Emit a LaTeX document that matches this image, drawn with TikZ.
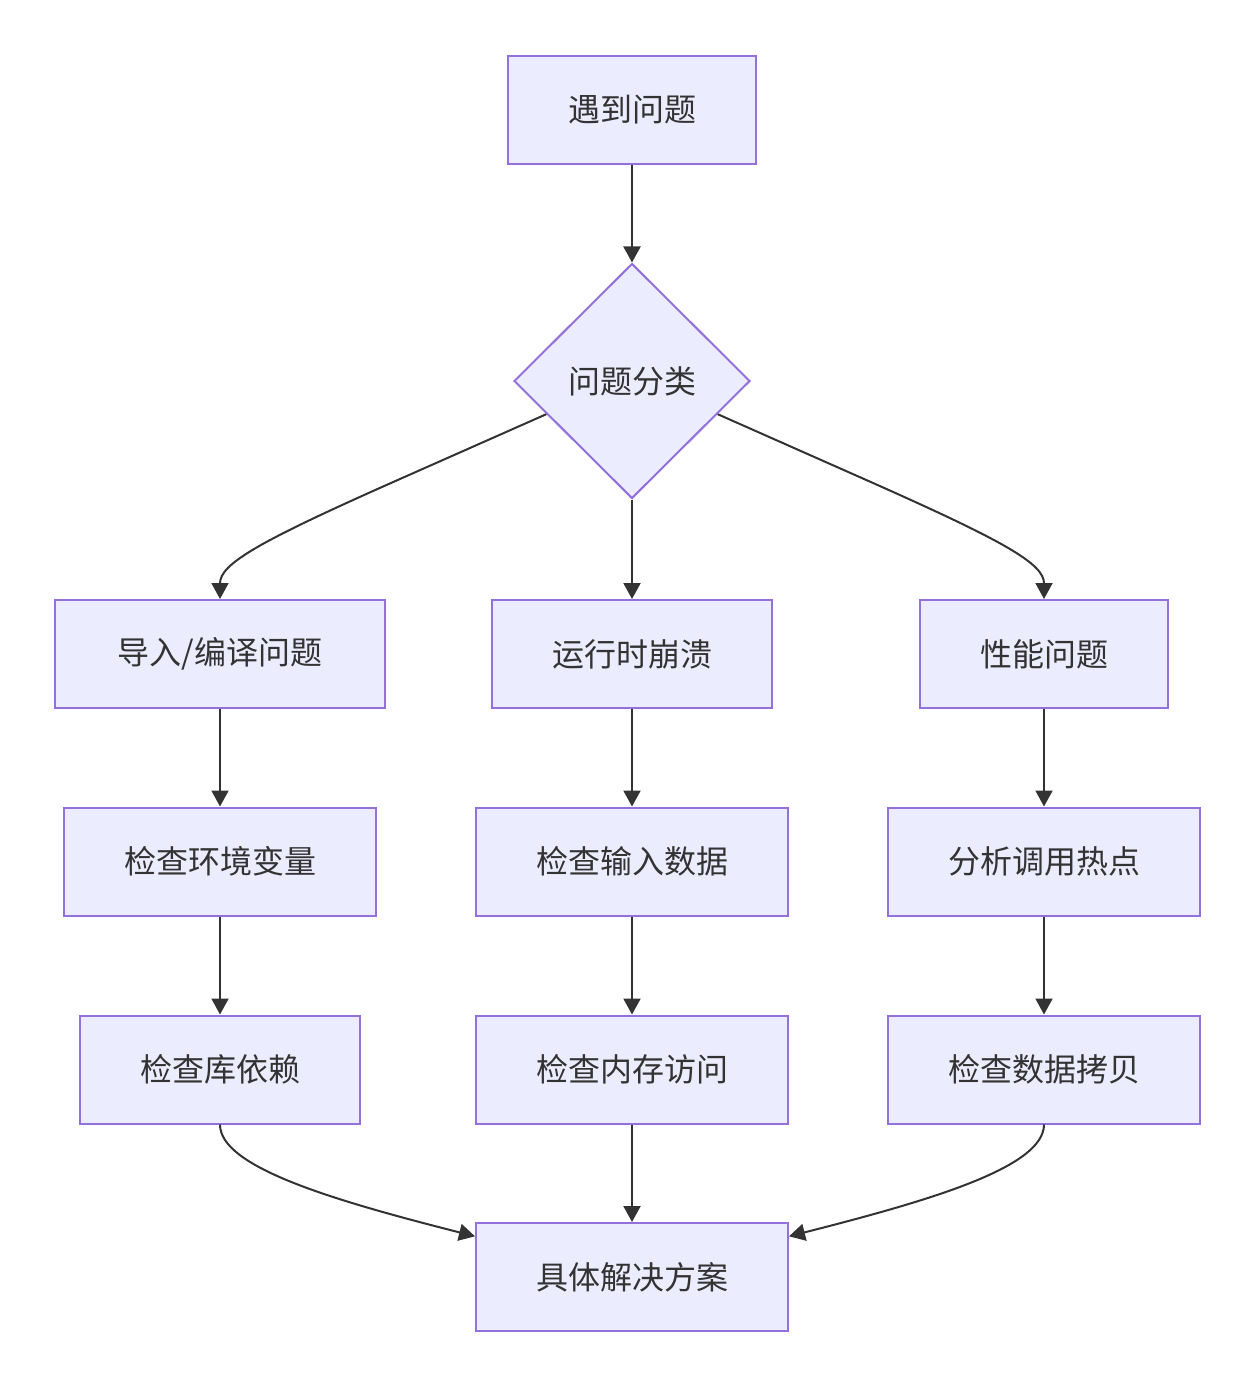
\documentclass[tikz,border=0pt]{standalone}
\usepackage{fontspec}
\setmainfont{Noto Sans CJK SC}
\usetikzlibrary{shapes.geometric,arrows.meta,calc}
\definecolor{nodefill}{HTML}{ECECFF}
\definecolor{nodeline}{HTML}{9370DB}
\definecolor{edgecol}{HTML}{333333}
\definecolor{textcol}{HTML}{333333}
\begin{document}
\begin{tikzpicture}[x=1pt,y=-1pt,
  box/.style={draw=nodeline,fill=nodefill,line width=2pt,inner sep=0pt,
    minimum height=108pt,text=textcol,font=\fontsize{32}{32}\selectfont},
  decide/.style={diamond,draw=nodeline,fill=nodefill,line width=2pt,inner sep=0pt,
    minimum width=236pt,minimum height=235pt,text=textcol,font=\fontsize{32}{32}\selectfont},
  edge/.style={draw=edgecol,line width=2pt,-{Triangle[length=16pt,width=17pt]}}]
\useasboundingbox (0,0) rectangle (1256,1387);
\node[box,minimum width=248pt] (start) at (632,110) {遇到问题};
\node[decide] (cls) at (632,381) {问题分类};
\node[box,minimum width=330pt] (imp) at (220,654) {导入/编译问题};
\node[box,minimum width=280pt] (crash) at (632,654) {运行时崩溃};
\node[box,minimum width=248pt] (perf) at (1044,654) {性能问题};
\node[box,minimum width=312pt] (env) at (220,861.5) {检查环境变量};
\node[box,minimum width=312pt] (inp) at (632,861.5) {检查输入数据};
\node[box,minimum width=312pt] (hot) at (1044,861.5) {分析调用热点};
\node[box,minimum width=280pt] (lib) at (220,1069.5) {检查库依赖};
\node[box,minimum width=312pt] (mem) at (632,1069.5) {检查内存访问};
\node[box,minimum width=312pt] (copy) at (1044,1069.5) {检查数据拷贝};
\node[box,minimum width=312pt] (sol) at (632,1277) {具体解决方案};
\coordinate (cl) at ($(cls.west)!0.28!(cls.south)$);
\coordinate (cr) at ($(cls.east)!0.28!(cls.south)$);
\coordinate (sl) at ($(sol.north west)!0.13!(sol.south west)$);
\coordinate (sr) at ($(sol.north east)!0.13!(sol.south east)$);
\draw[edge] (start) -- (cls);
\draw[edge] (cl) -- ++(-149,66) .. controls ++(-140,62) and ($(imp.north)+(0,-35)$) .. (imp.north);
\draw[edge] (cls) -- (crash);
\draw[edge] (cr) -- ++(149,66) .. controls ++(140,62) and ($(perf.north)+(0,-35)$) .. (perf.north);
\draw[edge] (imp) -- (env);
\draw[edge] (env) -- (lib);
\draw[edge] (crash) -- (inp);
\draw[edge] (inp) -- (mem);
\draw[edge] (perf) -- (hot);
\draw[edge] (hot) -- (copy);
\draw[edge] (lib.south) .. controls ++(0,42) and ($(sl)+(-146,-37)$) .. (sl);
\draw[edge] (mem) -- (sol);
\draw[edge] (copy.south) .. controls ++(0,42) and ($(sr)+(146,-37)$) .. (sr);
\end{tikzpicture}
\end{document}
